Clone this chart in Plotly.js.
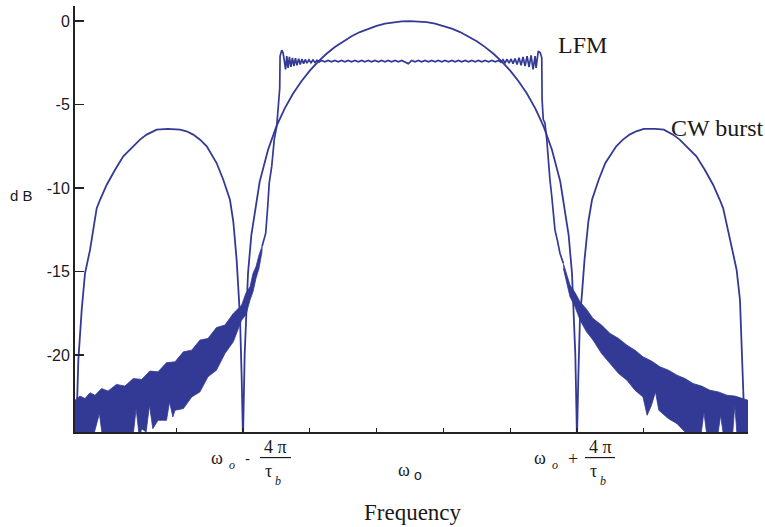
<!DOCTYPE html>
<html><head><meta charset="utf-8">
<script src="https://cdn.plot.ly/plotly-3.0.1.min.js"></script>
<style>html,body{margin:0;padding:0;background:#fff}#chart{width:765px;height:527px}</style>
</head><body><div id="chart"></div>
<script>
// Frequency axis in units of 4π/τb, centred on ωo
var cwFreq = [-2.0,-1.996,-1.986,-1.966,-1.946,-1.916,-1.876,-1.856,-1.816,-1.766,-1.717,-1.657,-1.617,-1.577,-1.517,-1.45,-1.377,-1.338,-1.298,-1.257,-1.217,-1.158,-1.118,-1.078,-1.058,-1.038,-1.028,-1.018,-1.008,-1.0,
  -0.99,-0.97,-0.95,-0.9,-0.85,-0.8,-0.75,-0.7,-0.65,-0.6,-0.55,-0.5,-0.45,-0.4,-0.35,-0.3,-0.25,-0.2,-0.15,-0.1,-0.05,0,
  0.05,0.1,0.15,0.2,0.25,0.3,0.35,0.4,0.45,0.5,0.55,0.6,0.65,0.7,0.75,0.8,0.85,0.9,0.95,0.97,0.99,1.0,
  1.008,1.018,1.03,1.045,1.068,1.09,1.13,1.17,1.235,1.275,1.315,1.355,1.40,1.47,1.52,1.575,1.615,1.655,1.715,1.765,1.815,1.855,1.875,1.93,1.956,1.976,1.986,1.996,2.006];
var cwDb = [-25,-23.3,-20.3,-17.3,-15.1,-13.7,-11.2,-10.7,-9.8,-8.9,-8.1,-7.5,-7.1,-6.8,-6.5,-6.45,-6.5,-6.6,-6.8,-7.1,-7.5,-8.5,-9.5,-10.7,-12.0,-14.3,-16.3,-17.7,-21.3,-25,
  -19.96,-15.10,-12.81,-9.61,-7.70,-6.31,-5.23,-4.34,-3.60,-2.97,-2.43,-1.96,-1.56,-1.21,-0.91,-0.66,-0.46,-0.29,-0.16,-0.07,-0.02,0,
  -0.02,-0.07,-0.16,-0.29,-0.46,-0.66,-0.91,-1.21,-1.56,-1.96,-2.43,-2.97,-3.60,-4.34,-5.23,-6.31,-7.70,-9.61,-12.81,-15.10,-19.96,-25,
  -21.3,-17.7,-16.3,-14.3,-12.0,-10.7,-9.5,-8.5,-7.5,-7.1,-6.8,-6.6,-6.45,-6.45,-6.5,-6.8,-7.1,-7.5,-8.1,-8.9,-9.8,-10.7,-11.2,-13.7,-14.9,-16.7,-19.5,-22.5,-25];

var lfmFreq = [-0.886,-0.864,-0.852,-0.843,-0.828,-0.813,-0.798,-0.789,-0.780,-0.778,-0.768,-0.760,-0.752,-0.745,-0.738,-0.730,-0.722,-0.713,-0.704,-0.695,-0.686,-0.677,-0.667,-0.657,-0.647,-0.637,-0.627,-0.617,-0.605,-0.593,-0.581,-0.569,-0.557,-0.545,
  -0.53,-0.51,-0.49,-0.47,-0.45,-0.43,-0.41,-0.39,-0.37,-0.35,-0.33,-0.31,-0.29,-0.27,-0.25,-0.23,-0.21,-0.19,-0.17,-0.15,-0.13,-0.11,-0.09,-0.07,-0.05,-0.03,-0.01,
  0.01,0.03,0.05,0.07,0.09,0.11,0.13,0.15,0.17,0.19,0.21,0.23,0.25,0.27,0.29,0.31,0.33,0.35,0.37,0.39,0.41,0.43,0.45,0.47,0.49,0.51,0.53,
  0.545,0.557,0.569,0.581,0.593,0.605,0.617,0.629,0.641,0.653,0.665,0.677,0.689,0.701,0.713,0.725,0.737,0.749,0.755,0.768,0.780,0.789,0.791,0.798,0.808,0.819,0.828,0.838,0.849,0.858,0.868,0.882,0.898,0.918];
var lfmDb = [-13.5,-12.7,-11.1,-9.7,-8.7,-7.1,-6.3,-5.1,-4.0,-2.1,-1.75,-1.9,-2.4,-2.9,-2.1,-2.8,-2.15,-2.75,-2.2,-2.7,-2.22,-2.65,-2.25,-2.6,-2.28,-2.55,-2.3,-2.52,-2.32,-2.5,-2.33,-2.48,-2.34,-2.46,
  -2.36,-2.44,-2.36,-2.44,-2.36,-2.44,-2.36,-2.44,-2.36,-2.44,-2.36,-2.44,-2.36,-2.44,-2.36,-2.44,-2.36,-2.44,-2.36,-2.44,-2.36,-2.44,-2.36,-2.44,-2.36,-2.44,-2.55,
  -2.36,-2.44,-2.36,-2.44,-2.36,-2.44,-2.36,-2.44,-2.36,-2.44,-2.36,-2.44,-2.36,-2.44,-2.36,-2.44,-2.36,-2.44,-2.36,-2.44,-2.36,-2.44,-2.36,-2.44,-2.36,-2.44,-2.36,
  -2.47,-2.31,-2.5,-2.29,-2.52,-2.27,-2.55,-2.24,-2.6,-2.2,-2.65,-2.15,-2.7,-2.1,-2.75,-2.05,-2.9,-2.1,-2.8,-1.8,-1.9,-2.2,-4.7,-5.9,-6.1,-7.1,-8.3,-9.5,-10.5,-11.5,-12.5,-13.1,-13.9,-14.5];

// Noisy LFM skirts: upper and lower edges of the dense band
var tailLeftUpperFreq = [-2.006,-1.976,-1.946,-1.916,-1.886,-1.847,-1.808,-1.758,-1.707,-1.657,-1.607,-1.558,-1.509,-1.458,-1.407,-1.357,-1.307,-1.258,-1.210,-1.159,-1.108,-1.058,-1.008,-0.983,-0.958,-0.940,-0.922,-0.904,-0.886];
var tailLeftUpperDb = [-22.7,-22.45,-22.6,-22.25,-22.4,-22.0,-22.15,-21.75,-21.85,-21.4,-21.45,-20.95,-21.0,-20.45,-20.4,-19.8,-19.7,-19.1,-19.0,-18.35,-18.2,-17.5,-17.0,-16.3,-15.9,-15.1,-14.7,-14.0,-13.5];
var tailLeftLowerFreq = [-2.006,-1.95,-1.90,-1.86,-1.84,-1.80,-1.75,-1.70,-1.66,-1.64,-1.62,-1.607,-1.58,-1.56,-1.54,-1.509,-1.458,-1.44,-1.42,-1.407,-1.357,-1.307,-1.258,-1.210,-1.159,-1.108,-1.058,-1.008,-0.983,-0.958,-0.940,-0.922,-0.904,-0.886];
var tailLeftLowerDb = [-25,-25,-25,-23.5,-25,-25,-25,-25,-25,-23.2,-25,-24.4,-24.6,-23.0,-24.4,-23.9,-23.9,-22.8,-23.7,-23.3,-23.2,-22.5,-22.2,-21.3,-20.9,-19.9,-19.2,-17.9,-17.6,-16.7,-16.2,-15.4,-14.8,-13.8];
var tailRightUpperFreq = [0.918,0.938,0.958,0.988,1.018,1.057,1.096,1.147,1.198,1.249,1.299,1.347,1.395,1.446,1.497,1.548,1.599,1.647,1.695,1.746,1.796,1.847,1.898,1.946,1.994,2.024];
var tailRightUpperDb = [-14.5,-15.1,-15.8,-16.25,-16.8,-17.25,-17.8,-18.2,-18.7,-19.0,-19.4,-19.7,-20.1,-20.35,-20.7,-20.9,-21.2,-21.4,-21.7,-21.85,-22.1,-22.2,-22.4,-22.45,-22.6,-22.7];
var tailRightLowerFreq = [0.918,0.938,0.958,0.988,1.018,1.057,1.096,1.147,1.198,1.249,1.299,1.347,1.395,1.42,1.446,1.47,1.49,1.548,1.599,1.647,1.695,1.74,1.76,1.78,1.84,1.86,1.88,1.93,1.945,1.96,2.024];
var tailRightLowerDb = [-14.8,-15.6,-16.5,-17.1,-17.9,-18.6,-19.1,-19.9,-20.5,-21.1,-21.5,-22.1,-22.5,-23.6,-23.0,-22.2,-23.3,-23.8,-24.1,-24.6,-25,-25,-23.4,-25,-25,-23.6,-25,-25,-23.0,-25,-25];

var xTickVals = [-1.4,-1.0,-0.6,-0.2,0.2,0.6,1.0,1.4];
var yTickVals = [0,-5,-10,-15,-20];
var yTickText = ['0','-5','-10','-15','-20'];

var C = '#333a95';
var TXT = '#1a1a1a';

function band(uf, ud, lf, ld) {
  return {x: uf.concat(lf.slice().reverse()), y: ud.concat(ld.slice().reverse())};
}
var bl = band(tailLeftUpperFreq, tailLeftUpperDb, tailLeftLowerFreq, tailLeftLowerDb);
var br = band(tailRightUpperFreq, tailRightUpperDb, tailRightLowerFreq, tailRightLowerDb);

var traces = [
  {x: cwFreq, y: cwDb, mode:'lines', line:{color:C, width:1.8}, hoverinfo:'skip'},
  {x: bl.x, y: bl.y, mode:'lines', fill:'toself', fillcolor:C, line:{color:C, width:0.8}, hoverinfo:'skip'},
  {x: br.x, y: br.y, mode:'lines', fill:'toself', fillcolor:C, line:{color:C, width:0.8}, hoverinfo:'skip'},
  {x: lfmFreq, y: lfmDb, mode:'lines', line:{color:C, width:1.7}, hoverinfo:'skip'}
];

var serif = 'Liberation Serif, Times New Roman, serif';
var sans = 'Liberation Sans, Arial, sans-serif';
function ann(text, x, y, size, fam, xref, yref) {
  return {text:text, x:x, y:y, xref:xref||'x', yref:yref||'paper', showarrow:false,
          xanchor:'center', yanchor:'middle', font:{family:fam, size:size, color:TXT}};
}
var annotations = [
  ann('LFM', 1.033, -1.44, 24, serif, 'x', 'y'),
  ann('CW burst', 1.841, -6.41, 24, serif, 'x', 'y'),
  ann('Frequency', 0.018, -0.190, 23, serif),
  ann('d B', -0.079, 0.554, 15, sans, 'paper', 'paper'),
  ann('ω', 2.078, -0.010, 18, serif),
  // ωo - 4π/τb
  ann('ω', -1.156, -0.061, 18, serif),
  ann('<i>o</i>', -1.066, -0.078, 12, serif),
  ann('-', -0.976, -0.063, 15, sans),
  ann('4 π', -0.808, -0.035, 18, serif),
  ann('τ', -0.847, -0.092, 18, serif),
  ann('<i>b</i>', -0.790, -0.115, 12, serif),
  // ωo
  ann('ω', -0.036, -0.089, 18, serif),
  ann('o', 0.045, -0.101, 14, sans),
  // ωo + 4π/τb
  ann('ω', 0.778, -0.061, 18, serif),
  ann('<i>o</i>', 0.868, -0.078, 12, serif),
  ann('+', 0.976, -0.063, 18, serif),
  ann('4 π', 1.138, -0.035, 18, serif),
  ann('τ', 1.096, -0.092, 18, serif),
  ann('<i>b</i>', 1.156, -0.115, 12, serif)
];
var shapes = [
  {type:'line', xref:'x', yref:'paper', x0:-0.898, x1:-0.713, y0:-0.060, y1:-0.060, line:{color:TXT, width:1.2}},
  {type:'line', xref:'x', yref:'paper', x0:1.048, x1:1.228, y0:-0.060, y1:-0.060, line:{color:TXT, width:1.2}}
];

var layout = {
  width:765, height:527,
  margin:{l:75, r:17, t:6, b:95},
  paper_bgcolor:'#fff', plot_bgcolor:'#fff',
  showlegend:false,
  xaxis:{range:[-2.006,2.024], showline:true, linecolor:'#222', linewidth:1.5,
         ticks:'inside', ticklen:4, tickwidth:1.2, tickcolor:'#222', tickvals:xTickVals,
         showticklabels:false, showgrid:false, zeroline:false},
  yaxis:{range:[-24.6,0.9], showline:true, linecolor:'#222', linewidth:2,
         ticks:'inside', ticklen:9, tickwidth:1.5, tickcolor:'#222',
         tickvals:yTickVals, ticktext:yTickText,
         tickfont:{family:sans, size:16, color:TXT},
         showgrid:false, zeroline:false},
  annotations:annotations,
  shapes:shapes
};
Plotly.newPlot('chart', traces, layout, {displayModeBar:false, staticPlot:true});
</script></body></html>
